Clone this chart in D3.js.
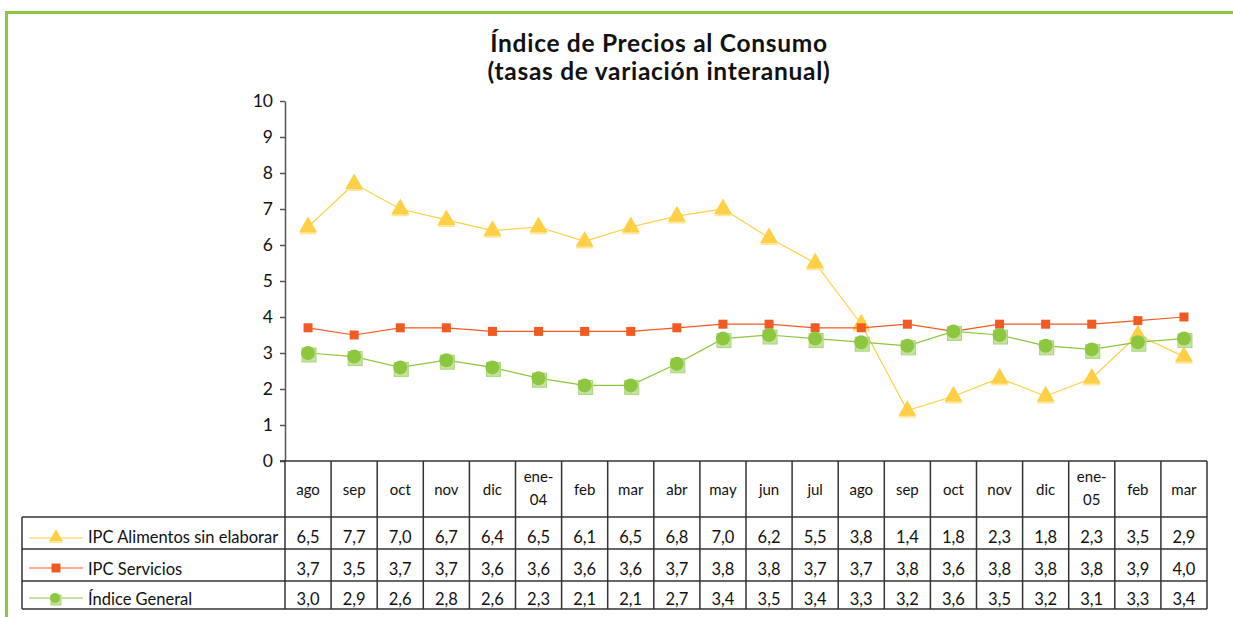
<!DOCTYPE html>
<html><head><meta charset="utf-8">
<script src="https://cdn.jsdelivr.net/npm/d3@7"></script>
<style>
html,body{margin:0;padding:0;background:#fff;}
svg{display:block;font-family:Lato,"Open Sans",sans-serif;}
</style></head>
<body>
<svg id="chart" width="1233" height="617"></svg>
<script>
const months = ["ago","sep","oct","nov","dic","ene-04","feb","mar","abr","may","jun","jul","ago","sep","oct","nov","dic","ene-05","feb","mar"];
const alimentos = [6.5,7.7,7.0,6.7,6.4,6.5,6.1,6.5,6.8,7.0,6.2,5.5,3.8,1.4,1.8,2.3,1.8,2.3,3.5,2.9];
const servicios = [3.7,3.5,3.7,3.7,3.6,3.6,3.6,3.6,3.7,3.8,3.8,3.7,3.7,3.8,3.6,3.8,3.8,3.8,3.9,4.0];
const general   = [3.0,2.9,2.6,2.8,2.6,2.3,2.1,2.1,2.7,3.4,3.5,3.4,3.3,3.2,3.6,3.5,3.2,3.1,3.3,3.4];
const seriesNames = ["IPC Alimentos sin elaborar","IPC Servicios","Índice General"];
const yTicks = [0,1,2,3,4,5,6,7,8,9,10];
const titleLines = ["Índice de Precios al Consumo","(tasas de variación interanual)"];

const colors = {alim:"#FFD046", serv:"#F15A22", gen:"#8DC63F"};
const svg = d3.select("#chart");

// frame
svg.append("rect").attr("x",6.5).attr("y",12.5).attr("width",1400).attr("height",800)
  .attr("fill","none").attr("stroke","#8DC63F").attr("stroke-width",3);

// title
svg.append("g").selectAll("text").data(titleLines).join("text")
  .attr("x",659).attr("y",(d,i)=>52+i*28).attr("text-anchor","middle")
  .attr("font-size",24.5).attr("letter-spacing",0.7).attr("font-weight","bold").attr("fill","#111").text(d=>d);

const x = d3.scaleBand().domain(d3.range(months.length)).range([285,1207]);
const y = d3.scaleLinear().domain([0,10]).range([461,101]);

// y axis
const ya = svg.append("g").attr("transform","translate(285,0)")
  .call(d3.axisLeft(y).tickValues(yTicks).tickSize(5).tickSizeOuter(0).tickPadding(7));
ya.select(".domain").attr("stroke","#555").attr("stroke-width",1.5);
ya.selectAll(".tick line").attr("stroke","#555").attr("stroke-width",1.5);
ya.selectAll(".tick text").attr("font-size",17.5).attr("fill","#111").attr("font-family","Lato,sans-serif");

// table lines
const rowsY = [517,549,581,609];
const tbl = svg.append("g").attr("stroke","#333").attr("stroke-width",1.5);
tbl.append("line").attr("x1",280).attr("x2",1207).attr("y1",461).attr("y2",461);
rowsY.forEach(yy=>tbl.append("line").attr("x1",22).attr("x2",1207).attr("y1",yy).attr("y2",yy));
tbl.append("line").attr("x1",22).attr("x2",22).attr("y1",517).attr("y2",609);
const bounds = d3.range(months.length).map(i=>x(i)).concat([x.range()[1]]);
bounds.forEach(bx=>tbl.append("line").attr("x1",bx).attr("x2",bx).attr("y1",461).attr("y2",609));

// header labels
const hdr = svg.append("g").attr("font-size",15).attr("fill","#111").attr("text-anchor","middle");
months.forEach((m,i)=>{
  const cx = x(i)+x.bandwidth()/2;
  if(m.includes("-")){
    const parts = m.split("-");
    hdr.append("text").attr("x",cx).attr("y",482).text(parts[0]+"-");
    hdr.append("text").attr("x",cx).attr("y",505).text(parts[1]);
  } else {
    hdr.append("text").attr("x",cx).attr("y",495).text(m);
  }
});

// table values
const fmt = v => v.toFixed(1).replace(".",",");
const data = [alimentos,servicios,general];
const baselines = [543,575,605];
data.forEach((arr,r)=>{
  svg.append("g").attr("font-size",16.5).attr("fill","#111").attr("text-anchor","middle")
    .selectAll("text").data(arr).join("text")
    .attr("x",(d,i)=>x(i)+x.bandwidth()/2).attr("y",baselines[r]).text(fmt);
});

// markers
function triangle(g, cx, cy, s){
  g.append("path").attr("d",d3.symbol(d3.symbolTriangle,s)()).attr("transform",`translate(${cx},${cy+2})`)
    .attr("fill","#FFE79A");
  g.append("path").attr("d",d3.symbol(d3.symbolTriangle,s)()).attr("transform",`translate(${cx},${cy})`)
    .attr("fill",colors.alim);
}
function square(g, cx, cy, w){
  g.append("rect").attr("x",cx-w/2).attr("y",cy-w/2).attr("width",w).attr("height",w).attr("fill",colors.serv);
}
function circ(g, cx, cy, r){
  g.append("rect").attr("x",cx-r+1).attr("y",cy-r+2).attr("width",2*r).attr("height",2*r)
    .attr("fill","#C5E3A0").attr("stroke","#A9D47A").attr("stroke-width",1);
  g.append("circle").attr("cx",cx).attr("cy",cy).attr("r",r).attr("fill",colors.gen);
}

const line = d3.line().x((d,i)=>x(i)+x.bandwidth()/2).y(d=>y(d));
const plot = svg.append("g");
plot.append("path").datum(alimentos).attr("d",line).attr("fill","none").attr("stroke",colors.alim).attr("stroke-width",1.2);
const gA = plot.append("g");
alimentos.forEach((v,i)=>triangle(gA, x(i)+x.bandwidth()/2, y(v), 140));
plot.append("path").datum(servicios).attr("d",line).attr("fill","none").attr("stroke",colors.serv).attr("stroke-width",1.2);
const gS = plot.append("g");
servicios.forEach((v,i)=>square(gS, x(i)+x.bandwidth()/2, y(v), 9));
plot.append("path").datum(general).attr("d",line).attr("fill","none").attr("stroke",colors.gen).attr("stroke-width",1.2);
const gG = plot.append("g");
general.forEach((v,i)=>circ(gG, x(i)+x.bandwidth()/2, y(v), 7));

// legend
const legY = [538,568,598];
const legColors = [colors.alim, colors.serv, colors.gen];
const lg = svg.append("g");
seriesNames.forEach((n,r)=>{
  lg.append("line").attr("x1",29).attr("x2",83).attr("y1",legY[r]).attr("y2",legY[r]).attr("stroke",legColors[r]).attr("stroke-width",1.2);
  if(r===0) triangle(lg,56,legY[r]-1,80);
  if(r===1) square(lg,56,legY[r],9);
  if(r===2) circ(lg,55,legY[r],5);
  lg.append("text").attr("x",88).attr("y",baselines[r]).attr("font-size",16.5).attr("fill","#111").text(n);
});
</script>
</body></html>
